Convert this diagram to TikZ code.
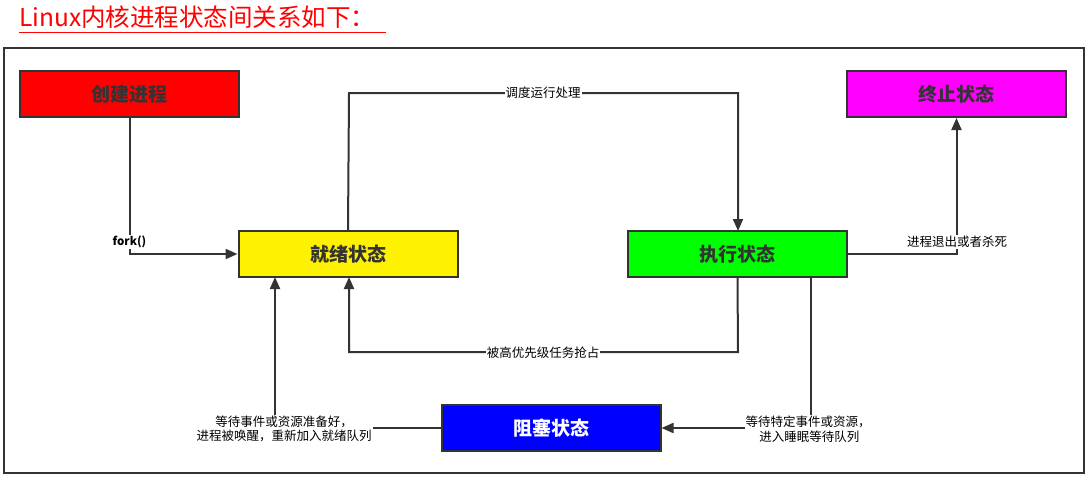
\documentclass[tikz,border=0pt]{standalone}
\usepackage{fontspec}
\setmainfont{Noto Sans CJK SC}
\newfontfamily\cjk{Noto Sans CJK SC}
\usetikzlibrary{arrows.meta}
\definecolor{ink}{HTML}{333333}
\tikzset{
  state/.style={draw=ink, line width=2pt, minimum width=219pt, minimum height=46pt,
    inner sep=0pt, font=\cjk\bfseries\fontsize{19}{21}\selectfont, text=ink},
  flow/.style={draw=ink, line width=2pt, -{Triangle[length=12pt,width=10pt]}},
  lbl/.style={fill=white, inner sep=1pt, font=\cjk\fontsize{12.5}{14.5}\selectfont, text=black, align=center},
}
\begin{document}
\begin{tikzpicture}[x=1pt,y=-1pt]
\useasboundingbox (0,0) rectangle (1092,479);
% heading
\node[anchor=west, text=red, font=\cjk\fontsize{24.5}{26}\selectfont, inner sep=0pt] (title) at (19,17) {Linux内核进程状态间关系如下：};
\draw[red, line width=1.2pt] (19,32.5) -- (386,32.5);
% frame
\draw[ink, line width=2pt] (4,48) rectangle (1084,473);
% states
\node[state, fill=red] (create) at (129.5,94) {创建进程};
\node[state, fill=yellow] (ready) at (348,254) {就绪状态};
\node[state, fill={rgb,255:red,0;green,255;blue,0}] (run) at (737.5,254) {执行状态};
\node[state, fill={rgb,255:red,255;green,0;blue,255}] (term) at (956.5,94) {终止状态};
\node[state, fill={rgb,255:red,0;green,0;blue,255}, text=white] (block) at (551,428) {阻塞状态};
% transitions
\draw[flow] (create.south) |- (ready.west);
\node[lbl, font=\cjk\bfseries\fontsize{11.5}{13}\selectfont] (lfork) at (129.5,242) {fork()};
\draw[flow] (ready.north) -- (349,93) -- (738,93) -- (738,231);
\node[lbl] (lsched) at (543,93) {调度运行处理};
\draw[flow] (run.south) -- (738,352) -- (349,352) -- (349,277);
\node[lbl] (lpreempt) at (543,353) {被高优先级任务抢占};
\draw[flow] (run.east) -| (term.south);
\node[lbl] (lexit) at (957,242) {进程退出或者杀死};
\draw[flow] (811,277) |- (block.east);
\node[lbl] (lsleep) at (808,429) {等待特定事件或资源，\\\ 进入睡眠等待队列};
\draw[flow] (block.west) -| (275,277);
\node[lbl] (lwake) at (284,429) {等待事件或资源准备好，\\进程被唤醒，重新加入就绪队列};
\end{tikzpicture}
\end{document}
